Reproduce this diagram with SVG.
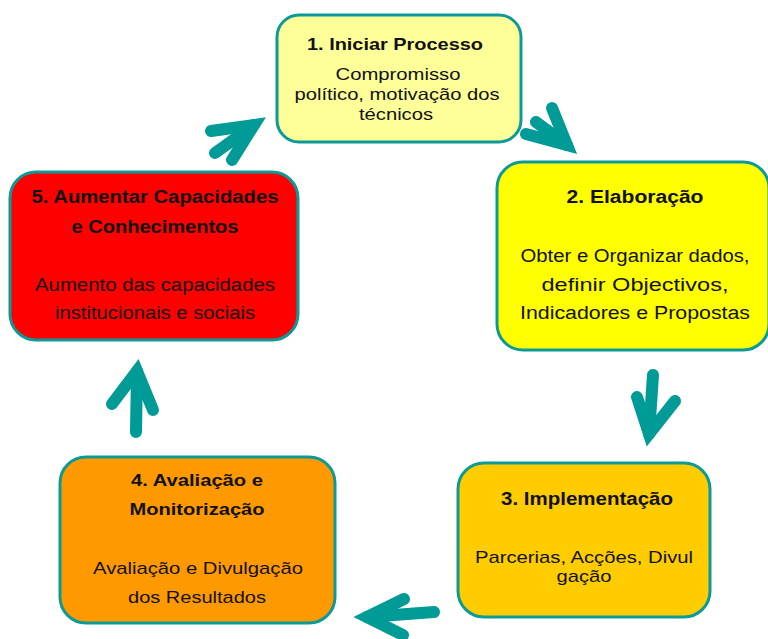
<svg xmlns="http://www.w3.org/2000/svg" width="768" height="639" viewBox="0 0 768 639">
<style>
.box{stroke:#0b9a98;stroke-width:3}
.t{font-family:"Liberation Sans",Arial,sans-serif;font-size:16.5px;fill:#111;text-anchor:middle}
.l{font-size:18px}
.m{font-size:17px}
.b{font-weight:bold}
.arr path{fill:none;stroke:#009a97;stroke-width:12;stroke-linecap:round;stroke-linejoin:miter;stroke-miterlimit:10}
</style>
<rect width="768" height="639" fill="#fff"/>
<g id="n1">
<rect class="box" x="277" y="15" width="244" height="127" rx="22" fill="#ffff99"/>
<text class="t b" x="395" y="50" textLength="176" lengthAdjust="spacingAndGlyphs">1. Iniciar Processo</text>
<text class="t" x="398" y="80" textLength="125" lengthAdjust="spacingAndGlyphs">Compromisso</text>
<text class="t" x="397" y="100" textLength="205" lengthAdjust="spacingAndGlyphs">político, motivação dos</text>
<text class="t" x="396" y="120" textLength="74" lengthAdjust="spacingAndGlyphs">técnicos</text>
</g>
<g id="n2">
<rect class="box" x="497" y="162" width="272" height="188" rx="26" fill="#ffff00"/>
<text class="t l b" x="635" y="203" textLength="137" lengthAdjust="spacingAndGlyphs">2. Elaboração</text>
<text class="t l" x="635" y="262" textLength="229" lengthAdjust="spacingAndGlyphs">Obter e Organizar dados,</text>
<text class="t l" x="635" y="291" textLength="187" lengthAdjust="spacingAndGlyphs">definir Objectivos,</text>
<text class="t l" x="635" y="319" textLength="230" lengthAdjust="spacingAndGlyphs">Indicadores e Propostas</text>
</g>
<g id="n3">
<rect class="box" x="458" y="463" width="252" height="154" rx="26" fill="#ffcc00"/>
<text class="t l b" x="587" y="505" textLength="172" lengthAdjust="spacingAndGlyphs">3. Implementação</text>
<text class="t m" x="584" y="563" textLength="218" lengthAdjust="spacingAndGlyphs">Parcerias, Acções, Divul</text>
<text class="t m" x="584" y="582" textLength="55" lengthAdjust="spacingAndGlyphs">gação</text>
</g>
<g id="n4">
<rect class="box" x="60" y="457" width="275" height="166" rx="26" fill="#ff9900"/>
<text class="t m b" x="197" y="486" textLength="132" lengthAdjust="spacingAndGlyphs">4. Avaliação e</text>
<text class="t m b" x="197" y="515" textLength="135" lengthAdjust="spacingAndGlyphs">Monitorização</text>
<text class="t m" x="198" y="574" textLength="210" lengthAdjust="spacingAndGlyphs">Avaliação e Divulgação</text>
<text class="t m" x="197" y="603" textLength="138" lengthAdjust="spacingAndGlyphs">dos Resultados</text>
</g>
<g id="n5">
<rect class="box" x="10" y="172" width="288" height="168" rx="26" fill="#ff0000"/>
<text class="t l b" x="155" y="203" textLength="247" lengthAdjust="spacingAndGlyphs">5. Aumentar Capacidades</text>
<text class="t l b" x="155" y="233" textLength="167" lengthAdjust="spacingAndGlyphs">e Conhecimentos</text>
<text class="t l" x="155" y="291" textLength="240" lengthAdjust="spacingAndGlyphs">Aumento das capacidades</text>
<text class="t l" x="155" y="319" textLength="200" lengthAdjust="spacingAndGlyphs">institucionais e sociais</text>
</g>
<g id="connectors" class="arr">
<path d="M215 153 L254 125"/>
<path d="M211 131 L254 125 L232 160"/>
<path d="M536 122 L567 145"/>
<path d="M552 108 L567 145 L526 134"/>
<path d="M653 375 L649 434"/>
<path d="M637 397 L649 434 L675 401"/>
<path d="M434 612 L367 617"/>
<path d="M404 599 L367 617 L403 635"/>
<path d="M136 432 L137 371"/>
<path d="M112 404 L137 371 L153 410"/>
</g>
</svg>
